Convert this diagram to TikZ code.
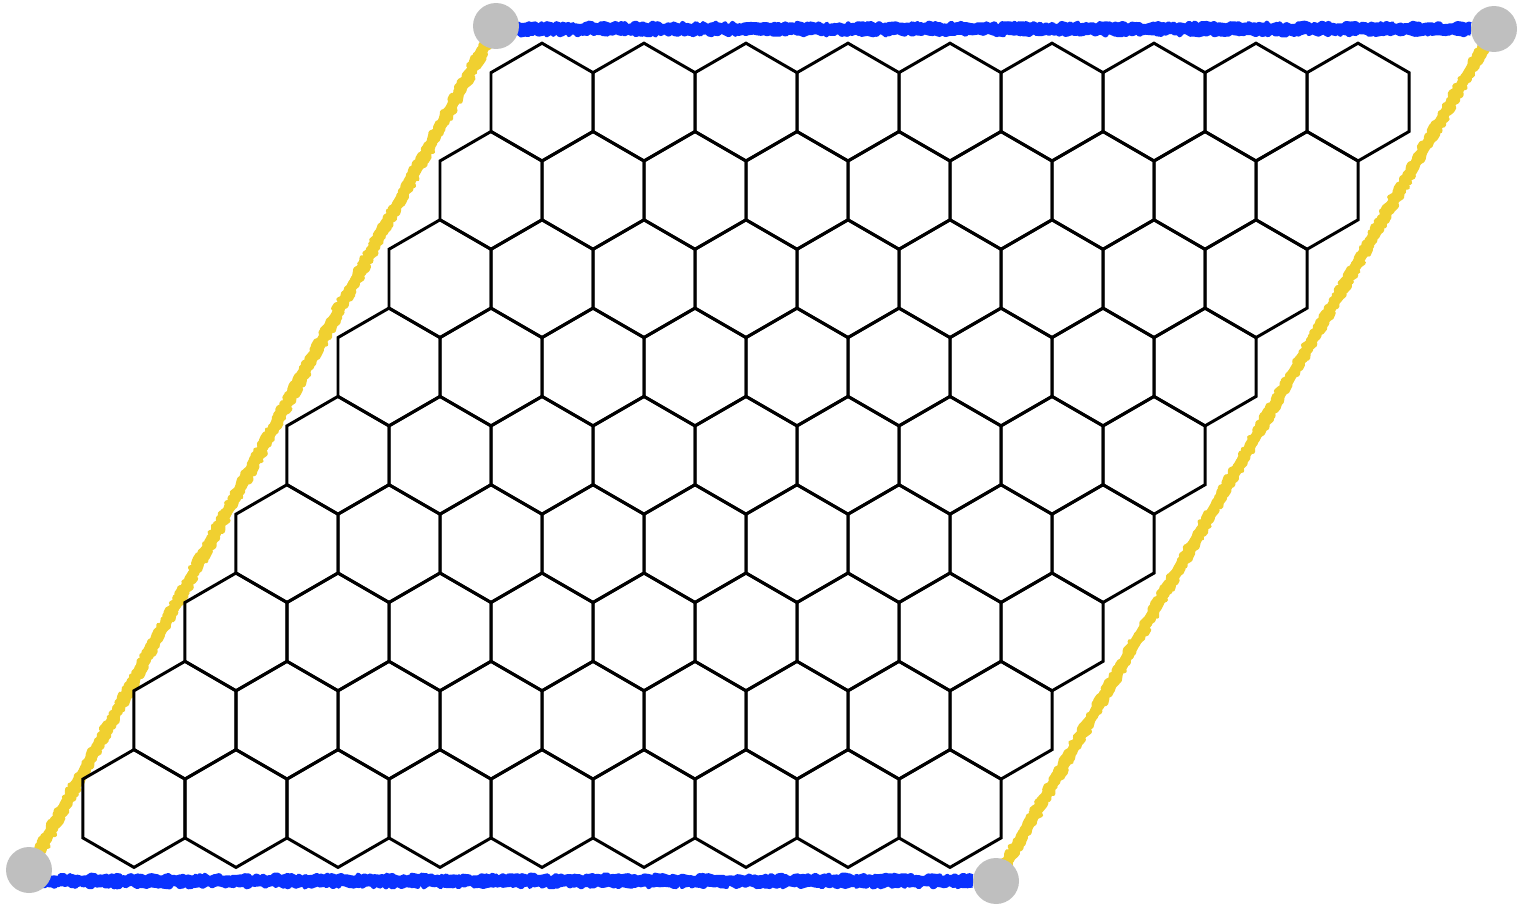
\documentclass[tikz,border=0pt]{standalone}
\usetikzlibrary{decorations.pathmorphing, backgrounds}
\definecolor{edgeblue}{HTML}{0A32FF}
\definecolor{edgeyellow}{HTML}{F0D030}
\definecolor{cornergrey}{HTML}{BFBFBF}
\tikzset{
  hexcell/.style={draw=black, line width=1.7pt, line join=miter},
  rough/.style={line width=5.8pt},
  fringe/.style={line width=2.4pt, decorate, decoration={random steps, segment length=1.4pt, amplitude=1pt}, line join=round},
  corner/.style={circle, fill=cornergrey, minimum size=0.92cm, inner sep=0pt},
}

\begin{document}
\begin{tikzpicture}[x=0.02cm, y=-0.02cm]
\pgfmathsetseed{7}
\useasboundingbox (0,0) rectangle (1526,906);

% hexagonal cells, 9 x 9
\foreach \r in {0,...,8}
  \foreach \i in {0,...,8}
    \draw[hexcell] ({134+102*\i+51*\r},{808.5-88.3*\r})
      +(90:58.9) -- +(150:58.9) -- +(210:58.9) -- +(270:58.9) -- +(330:58.9) -- +(30:58.9) -- cycle;

% corners
\node[corner] (bl) at (29,870) {};
\node[corner] (br) at (996,881) {};
\node[corner] (tl) at (496,26) {};
\node[corner] (tr) at (1494,29) {};

% boundary of the cell
\begin{scope}[on background layer]
\foreach \s in {-2.6pt,2.6pt} {
  \draw[fringe, edgeblue, transform canvas={yshift=\s}] (bl |- br) -- (br);
  \draw[fringe, edgeblue, transform canvas={yshift=\s}] (tl |- tr) -- (tr);
  \draw[fringe, edgeyellow, transform canvas={xshift=\s}] (bl.center) -- (tl.center);
  \draw[fringe, edgeyellow, transform canvas={xshift=\s}] (br.center) -- (tr.center);
}
\draw[rough, edgeblue] (bl |- br) -- (br);
\draw[rough, edgeblue] (tl |- tr) -- (tr);
\draw[rough, edgeyellow] (bl.center) -- (tl.center);
\draw[rough, edgeyellow] (br.center) -- (tr.center);
\end{scope}
\end{tikzpicture}
\end{document}
